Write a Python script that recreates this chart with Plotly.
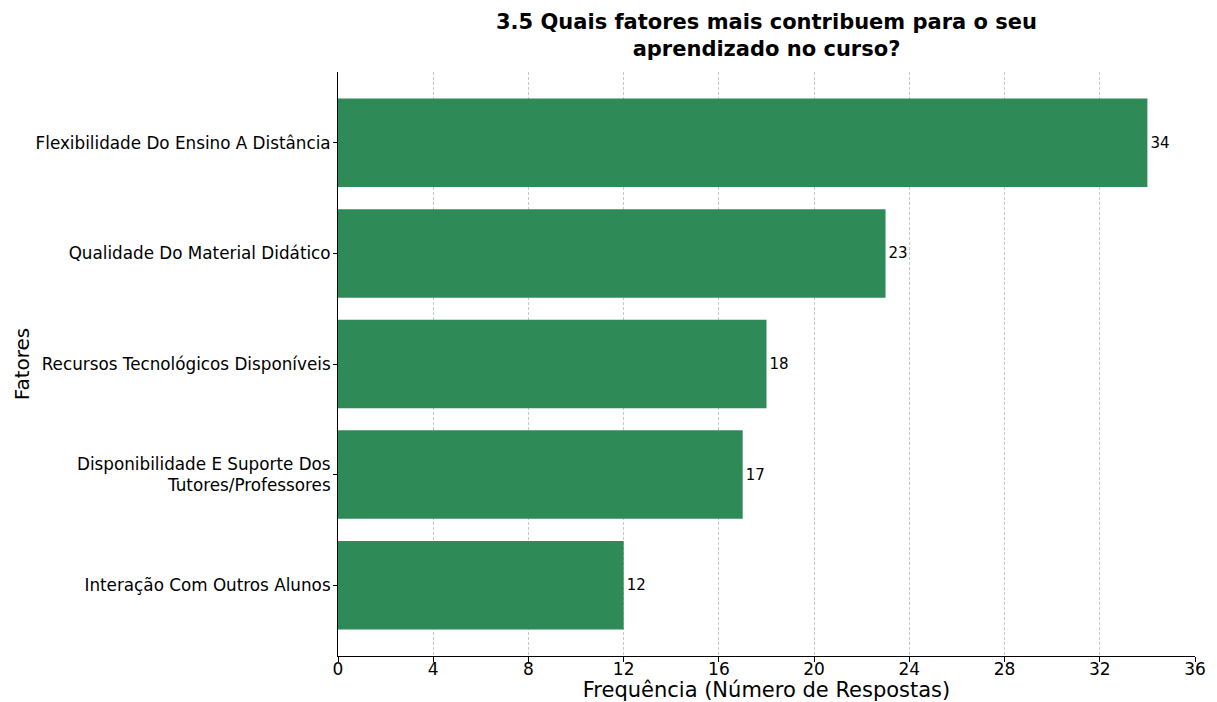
import plotly.graph_objects as go

categories = [
    "Flexibilidade Do Ensino A Distância",
    "Qualidade Do Material Didático",
    "Recursos Tecnológicos Disponíveis",
    "Disponibilidade E Suporte Dos<br>Tutores/Professores",
    "Interação Com Outros Alunos",
]
values = [34, 23, 18, 17, 12]
x_ticks = [0, 4, 8, 12, 16, 20, 24, 28, 32, 36]
positions = list(range(len(categories)))

fig = go.Figure(
    go.Bar(
        x=values,
        y=positions,
        orientation="h",
        width=0.8,
        marker=dict(color="#2E8B57", line=dict(width=0)),
        text=[str(v) for v in values],
        textposition="outside",
        textfont=dict(family="DejaVu Sans", size=15, color="black"),
        cliponaxis=False,
    )
)

fig.update_layout(
    width=1217,
    height=702,
    margin=dict(l=338, r=22, t=72, b=46, autoexpand=False),
    plot_bgcolor="white",
    paper_bgcolor="white",
    font=dict(family="DejaVu Sans", color="black"),
    showlegend=False,
    title=dict(
        text="<b>3.5 Quais fatores mais contribuem para o seu<br>aprendizado no curso?</b>",
        x=(338 + 1195) / 2 / 1217,
        xanchor="center",
        y=1 - 29 / 702,
        yanchor="top",
        font=dict(family="DejaVu Sans", size=21, color="black"),
    ),
)

fig.update_xaxes(
    range=[0, 36],
    tickvals=x_ticks,
    ticktext=[str(t) for t in x_ticks],
    tickfont=dict(size=17),
    ticks="outside",
    ticklen=5,
    tickcolor="black",
    ticklabelstandoff=-7,
    showline=True,
    linecolor="black",
    linewidth=1,
    showgrid=True,
    gridcolor="#c8c8c8",
    griddash="3px,2px",
    gridwidth=0.8,
    zeroline=False,
    layer="above traces",
    automargin=False,
    title=dict(text="Frequência (Número de Respostas)", font=dict(size=21), standoff=2),
)

fig.update_yaxes(
    range=[4.64, -0.64],
    tickvals=positions,
    ticktext=categories,
    tickfont=dict(size=16.8),
    ticks="outside",
    ticklen=4,
    tickcolor="black",
    ticklabelstandoff=-1,
    showline=True,
    linecolor="black",
    linewidth=1,
    showgrid=False,
    zeroline=False,
    automargin=False,
    title=dict(text="Fatores", font=dict(size=20), standoff=0),
)

fig.write_html(
    "out.html",
    config={"displayModeBar": False},
    post_script="document.body.style.margin='0px';",
)
